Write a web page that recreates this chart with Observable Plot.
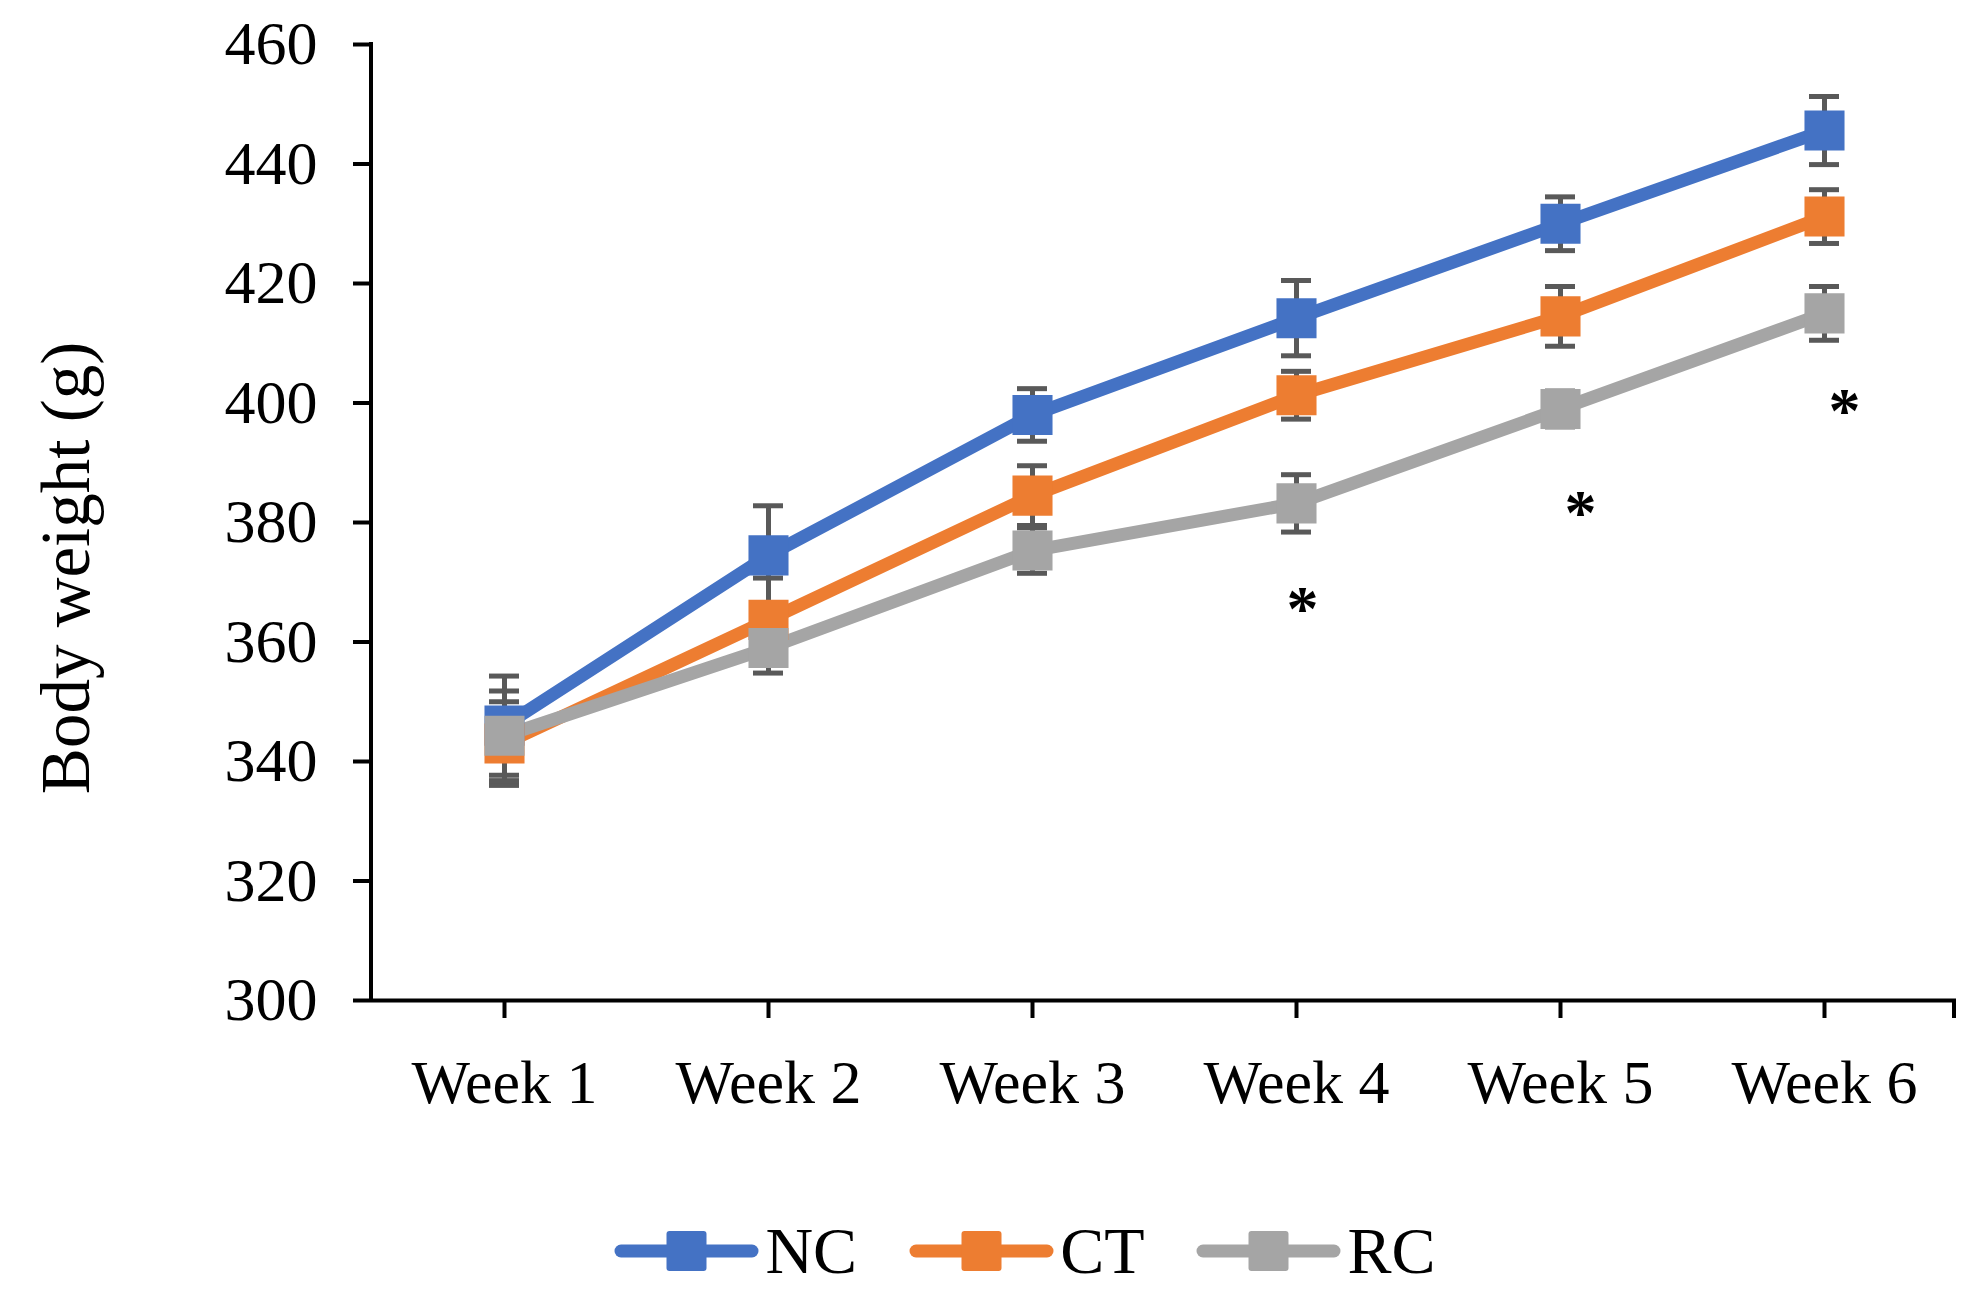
<!DOCTYPE html>
<html>
<head>
<meta charset="utf-8">
<script src="https://cdn.jsdelivr.net/npm/d3@7"></script>
<script src="https://cdn.jsdelivr.net/npm/@observablehq/plot@0.6"></script>
<style>
  html, body { margin: 0; padding: 0; background: #fff; }
  #chart svg { display: block; }
  #legend { display: flex; justify-content: center; align-items: center; height: 93px; padding-left: 70px; box-sizing: border-box; width: 1980px;
            font-family: "Liberation Serif", "Times New Roman", serif; font-size: 66px; color: #000; }
  .item { display: flex; align-items: center; margin: 0 26px; }
  .item span { margin-left: 6px; line-height: 1; }
</style>
</head>
<body>
<div id="chart"></div>
<div id="legend"></div>
<script>
const weeks = ["Week 1", "Week 2", "Week 3", "Week 4", "Week 5", "Week 6"];
const seriesNames = ["NC", "CT", "RC"];
const seriesColors = ["#4472C4", "#ED7D31", "#A5A5A5"];
const ncValues = [346, 374.5, 398, 414.2, 430, 445.6];
const ncErrors = [8.3, 8.3, 4.4, 6.3, 4.5, 5.7];
const ctValues = [343, 363.7, 384.5, 401.3, 414.5, 431.2];
const ctErrors = [7, 7, 5, 4, 5, 4.5];
const rcValues = [344.3, 359, 375.3, 383.2, 399, 415];
const rcErrors = [7.5, 4.2, 3.8, 4.8, 3, 4.5];
const yTicks = [300, 320, 340, 360, 380, 400, 420, 440, 460];
const sigWeeks = ["Week 4", "Week 5", "Week 6"];
const sigPositions = [366, 382, 399];
const yTitle = "Body weight (g)";

const allValues = [ncValues, ctValues, rcValues];
const allErrors = [ncErrors, ctErrors, rcErrors];
const rows = seriesNames.flatMap((s, j) => weeks.map((w, i) => ({
  week: w, series: s, value: allValues[j][i], lo: allValues[j][i] - allErrors[j][i], hi: allValues[j][i] + allErrors[j][i]
})));
const sig = sigWeeks.map((w, i) => ({week: w, pos: sigPositions[i], label: "*"}));

const W = 1980, H = 1204;
const mL = 371, mR = 24, mT = 44, mB = 204;
const font = '"Liberation Serif", "Times New Roman", serif';

const chart = Plot.plot({
  width: W, height: H,
  marginLeft: mL, marginRight: mR, marginTop: mT, marginBottom: mB,
  style: {fontFamily: font, color: "#000", background: "#fff"},
  x: {type: "point", domain: weeks, padding: 0.5, label: null},
  y: {domain: [300, 460], label: null},
  color: {domain: seriesNames, range: seriesColors},
  marks: [
    Plot.axisY({ticks: yTicks, tickSize: 18, tickPadding: 36, fontSize: 62, strokeWidth: 4, stroke: "#000", label: null}),
    Plot.axisX({tickSize: 18, tickPadding: 40, fontSize: 62, strokeWidth: 4, stroke: "#000", label: null}),
    Plot.ruleY([300], {stroke: "#000", strokeWidth: 4}),
    Plot.ruleX(rows, {x: "week", y1: "lo", y2: "hi", stroke: "#595959", strokeWidth: 5}),
    Plot.ruleY(rows, {y: "hi", x1: "week", x2: "week", insetLeft: -15, insetRight: -15, stroke: "#595959", strokeWidth: 5}),
    Plot.ruleY(rows, {y: "lo", x1: "week", x2: "week", insetLeft: -15, insetRight: -15, stroke: "#595959", strokeWidth: 5}),
    Plot.line(rows, {x: "week", y: "value", z: "series", stroke: "series", strokeWidth: 13, strokeLinejoin: "round", strokeLinecap: "round"}),
    Plot.dot(rows, {x: "week", y: "value", symbol: "square", r: 22.6, fill: "series", stroke: null}),
    Plot.text(sig.filter(d => d.week === "Week 4"), {x: "week", y: "pos", text: "label", dx: 6, dy: 3, fontSize: 64, fontWeight: "bold", fill: "#000"}),
    Plot.text(sig.filter(d => d.week !== "Week 4"), {x: "week", y: "pos", text: "label", dx: 20, dy: 3, fontSize: 64, fontWeight: "bold", fill: "#000"})
  ]
});
document.getElementById("chart").appendChild(chart);

// axis lines and title drawn from the plot's own scales
const ys = chart.scale("y");
const svg = d3.select(chart);
svg.append("line")
  .attr("x1", mL).attr("x2", mL)
  .attr("y1", ys.apply(460) - 2).attr("y2", ys.apply(300) + 2)
  .attr("stroke", "#000").attr("stroke-width", 4);
svg.append("line")
  .attr("x1", W - mR - 2).attr("x2", W - mR - 2)
  .attr("y1", ys.apply(300)).attr("y2", ys.apply(300) + 18)
  .attr("stroke", "#000").attr("stroke-width", 4);
svg.append("text")
  .attr("transform", `translate(66, ${(ys.apply(460) + ys.apply(300)) / 2 + 46}) rotate(-90)`)
  .attr("text-anchor", "middle").attr("dominant-baseline", "central")
  .attr("font-family", font).attr("font-size", 69).attr("fill", "#000")
  .text(yTitle);

// legend
const legend = d3.select("#legend");
seriesNames.forEach((s, i) => {
  const item = legend.append("div").attr("class", "item");
  const sw = item.append("svg").attr("width", 145).attr("height", 44);
  sw.append("line").attr("x1", 7).attr("x2", 138).attr("y1", 22).attr("y2", 22)
    .attr("stroke", seriesColors[i]).attr("stroke-width", 13).attr("stroke-linecap", "round");
  sw.append("rect").attr("x", 52.5).attr("y", 2).attr("width", 40).attr("height", 40).attr("rx", 3)
    .attr("fill", seriesColors[i]);
  item.append("span").text(s);
});
</script>
</body>
</html>
